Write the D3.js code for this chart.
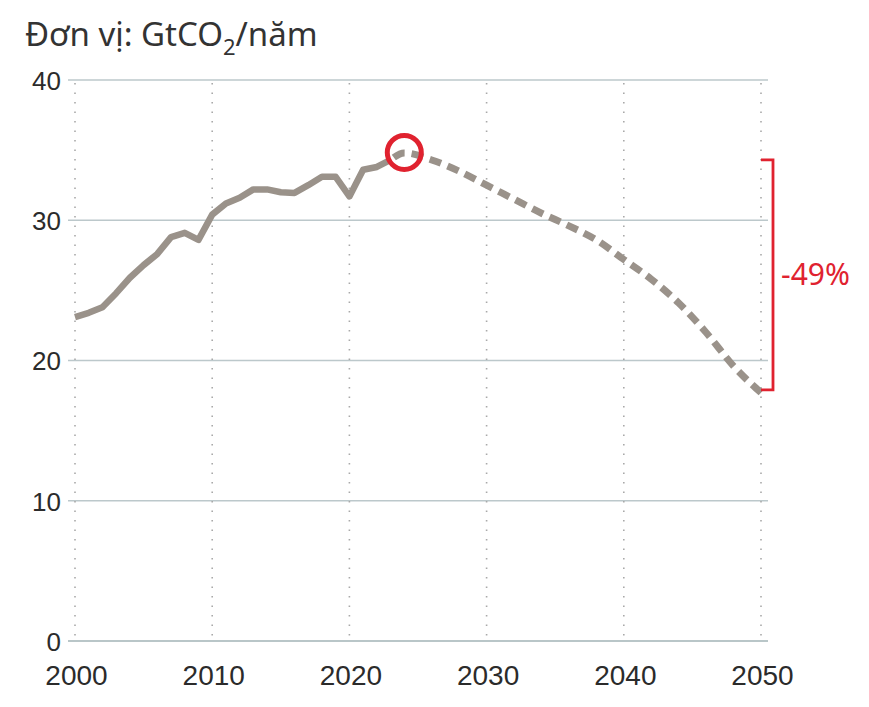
<!DOCTYPE html>
<html>
<head>
<meta charset="utf-8">
<script src="https://cdn.jsdelivr.net/npm/d3@7"></script>
<style>
  html, body { margin: 0; padding: 0; background: #fff; }
  svg { display: block; }
</style>
</head>
<body>
<svg id="chart" width="869" height="707"></svg>
<script>
// ---- data ----
const histYears = [2000,2001,2002,2003,2004,2005,2006,2007,2008,2009,2010,2011,2012,2013,2014,2015,2016,2017,2018,2019,2020,2021,2022,2023];
const histValues = [23.1,23.4,23.8,24.8,25.9,26.8,27.6,28.8,29.1,28.6,30.4,31.2,31.6,32.2,32.2,32.0,31.95,32.5,33.1,33.1,31.7,33.6,33.8,34.3];
const projYears = [2023,2024,2026,2028,2030,2032,2034,2036,2038,2040,2042,2044,2046,2048,2050];
const projValues = [34.3,34.8,34.3,33.5,32.5,31.5,30.5,29.6,28.6,27.2,25.8,24.1,22.0,19.6,17.7];
const peakYear = 2024, peakValue = 34.8;
const bracketTop = 34.3, bracketBottom = 17.9;
const bracketLabel = "-49%";
const xTicks = [2000,2010,2020,2030,2040,2050];
const yTicks = [0,10,20,30,40];
const unitLabel = ["Đơn vị: GtCO", "2", "/năm"];

// ---- layout ----
const svg = d3.select("#chart");
const x = d3.scaleLinear().domain([2000, 2050]).range([75, 761]);
const y = d3.scaleLinear().domain([0, 40]).range([641, 80]);

svg.append("rect").attr("width", 869).attr("height", 707).attr("fill", "#fff");

// title
const t = svg.append("text").attr("x", 25).attr("y", 46)
  .attr("font-family", "'Noto Sans', 'Open Sans', sans-serif")
  .attr("font-size", 33).attr("fill", "#333");
t.append("tspan").text(unitLabel[0]);
t.append("tspan").attr("dy", 9).attr("font-size", 22).text(unitLabel[1]);
t.append("tspan").attr("dy", -9).text(unitLabel[2]);

// horizontal grid
svg.append("g").selectAll("line").data(yTicks).join("line")
  .attr("x1", 68).attr("x2", 768)
  .attr("y1", d => y(d)).attr("y2", d => y(d))
  .attr("stroke", d => d === 0 ? "#b9c6c8" : "#bcc8cb")
  .attr("stroke-width", d => d === 0 ? 2 : 1.3);

// vertical dotted grid
svg.append("g").selectAll("line").data(xTicks).join("line")
  .attr("x1", d => x(d)).attr("x2", d => x(d))
  .attr("y1", y(40) + 3).attr("y2", y(0))
  .attr("stroke", "#a9a9a9").attr("stroke-width", 1.6)
  .attr("stroke-dasharray", "1.6,7.9");

// y axis labels
const yAxis = d3.axisLeft(y).tickValues(yTicks).tickSize(0).tickPadding(0);
const gy = svg.append("g").attr("transform", "translate(61,1)").call(yAxis);
gy.select(".domain").remove();
gy.selectAll("text").attr("font-family", "'Liberation Sans', Arial, sans-serif")
  .attr("font-size", 26).attr("fill", "#2b2b2b");

// x axis labels
const xAxis = d3.axisBottom(x).tickValues(xTicks).tickFormat(d3.format("d")).tickSize(0).tickPadding(0);
const gx = svg.append("g").attr("transform", "translate(1,665)").call(xAxis);
gx.select(".domain").remove();
gx.selectAll("text").attr("font-family", "'Liberation Sans', Arial, sans-serif")
  .attr("font-size", 28).attr("fill", "#2b2b2b");

// lines
const lineColor = "#9a928a";
const histLine = d3.line().x((d, i) => x(histYears[i])).y(d => y(d));
svg.append("path").attr("d", histLine(histValues))
  .attr("fill", "none").attr("stroke", lineColor).attr("stroke-width", 6.5)
  .attr("stroke-linejoin", "round");

const projLine = d3.line().x((d, i) => x(projYears[i])).y(d => y(d)).curve(d3.curveMonotoneX);
svg.append("path").attr("d", projLine(projValues))
  .attr("fill", "none").attr("stroke", lineColor).attr("stroke-width", 7)
  .attr("stroke-dasharray", "12,7").attr("stroke-dashoffset", 15);

// peak circle
const red = "#e0222f";
svg.append("circle").attr("cx", x(peakYear)).attr("cy", y(peakValue) - 0.5).attr("r", 17)
  .attr("fill", "none").attr("stroke", red).attr("stroke-width", 5);

// bracket
const bx = 773, bx0 = 761;
svg.append("path")
  .attr("d", `M${bx0},${y(bracketTop)}H${bx}V${y(bracketBottom)}H${bx0}`)
  .attr("fill", "none").attr("stroke", red).attr("stroke-width", 2.8);
svg.append("text").attr("x", 781).attr("y", 285)
  .attr("font-family", "'Noto Sans', 'Open Sans', sans-serif")
  .attr("font-size", 30).attr("fill", red).text(bracketLabel);
</script>
</body>
</html>
